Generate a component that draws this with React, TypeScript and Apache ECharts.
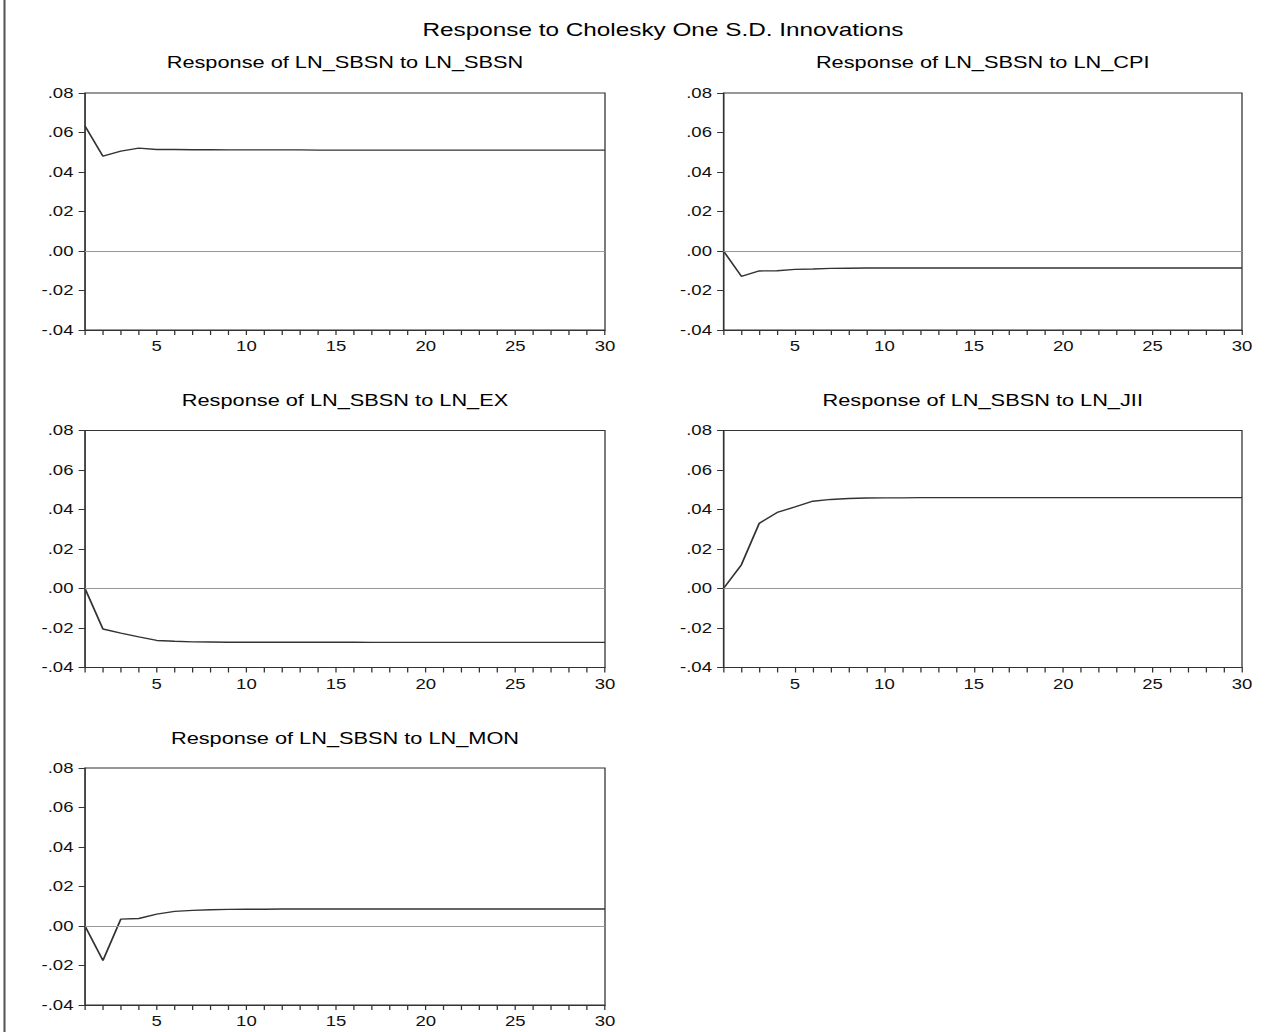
import React, { useEffect, useRef } from "react";
import * as echarts from "echarts";

// ---- data ----
const periods: number[] = Array.from({ length: 30 }, (_, i) => i + 1);

const mainTitle = "Response to Cholesky One S.D. Innovations";
const panelTitles = [
  "Response of LN_SBSN to LN_SBSN",
  "Response of LN_SBSN to LN_CPI",
  "Response of LN_SBSN to LN_EX",
  "Response of LN_SBSN to LN_JII",
  "Response of LN_SBSN to LN_MON",
];

const respSBSN = [
  0.0633, 0.0480, 0.0506, 0.0521, 0.0514, 0.0514, 0.0513, 0.0513, 0.0512, 0.0512,
  0.0512, 0.0512, 0.0512, 0.0511, 0.0511, 0.0511, 0.0511, 0.0511, 0.0511, 0.0511,
  0.0511, 0.0511, 0.0511, 0.0511, 0.0511, 0.0511, 0.0511, 0.0511, 0.0511, 0.0511,
];
const respCPI = [
  0.0, -0.0128, -0.0101, -0.0100, -0.0093, -0.0091, -0.0088, -0.0087, -0.0086, -0.0086,
  -0.0086, -0.0086, -0.0086, -0.0086, -0.0086, -0.0086, -0.0086, -0.0086, -0.0086, -0.0086,
  -0.0086, -0.0086, -0.0086, -0.0086, -0.0086, -0.0086, -0.0086, -0.0086, -0.0086, -0.0086,
];
const respEX = [
  0.0, -0.0205, -0.0226, -0.0245, -0.0263, -0.0267, -0.0270, -0.0271, -0.0272, -0.0272,
  -0.0272, -0.0272, -0.0272, -0.0272, -0.0272, -0.0272, -0.0273, -0.0273, -0.0273, -0.0273,
  -0.0273, -0.0273, -0.0273, -0.0273, -0.0273, -0.0273, -0.0273, -0.0273, -0.0273, -0.0273,
];
const respJII = [
  0.0, 0.0120, 0.0330, 0.0385, 0.0413, 0.0442, 0.0451, 0.0456, 0.0458, 0.0459,
  0.0459, 0.0460, 0.0460, 0.0460, 0.0460, 0.0460, 0.0460, 0.0460, 0.0460, 0.0460,
  0.0460, 0.0460, 0.0460, 0.0460, 0.0460, 0.0460, 0.0460, 0.0460, 0.0460, 0.0460,
];
const respMON = [
  0.0, -0.0175, 0.0035, 0.0038, 0.0060, 0.0074, 0.0079, 0.0082, 0.0084, 0.0085,
  0.0085, 0.0086, 0.0086, 0.0086, 0.0086, 0.0086, 0.0086, 0.0086, 0.0086, 0.0086,
  0.0086, 0.0086, 0.0086, 0.0086, 0.0086, 0.0086, 0.0086, 0.0086, 0.0086, 0.0086,
];
const responses = [respSBSN, respCPI, respEX, respJII, respMON];

const xLabelValues = [5, 10, 15, 20, 25, 30];
const yMin = -0.04;
const yMax = 0.08;
const yStep = 0.02;

// ---- layout (page coordinates; the reference is stretched horizontally) ----
const S = 1.28;
const PAGE_W = 1286;
const PAGE_H = 1032;
const px = (x: number) => x / S;
const cols = [
  { l: 85, r: 605 },
  { l: 723.5, r: 1242 },
];
const rows = [
  { t: 93, b: 330 },
  { t: 430.5, b: 667.5 },
  { t: 768, b: 1005 },
];
const panelPos = [
  [0, 0],
  [0, 1],
  [1, 0],
  [1, 1],
  [2, 0],
];
const titleY = [62, 400, 738];
const FONT = "'Liberation Sans', Arial, Helvetica, sans-serif";
const INK = "#111";

const fmtY = (v: number) => {
  const a = Math.abs(v);
  const s = a.toFixed(2).replace(/^0/, "");
  return (v < -1e-9 ? "-" : "") + s;
};

export default function App() {
  const ref = useRef<HTMLDivElement>(null);
  useEffect(() => {
    if (!ref.current) return;
    const chart = echarts.init(ref.current, undefined, { renderer: "svg" });

    const grids: any[] = [];
    const xAxes: any[] = [];
    const yAxes: any[] = [];
    const series: any[] = [];
    const graphics: any[] = [];

    graphics.push({
      type: "line",
      shape: { x1: px(4.5), y1: 0, x2: px(4.5), y2: PAGE_H },
      style: { stroke: "#555", lineWidth: 1.6 },
      silent: true,
    });
    graphics.push({
      type: "text",
      x: px(663),
      y: 29,
      style: {
        text: mainTitle,
        fontFamily: FONT,
        fontSize: 19,
        fill: "#000",
        align: "center",
        verticalAlign: "middle",
      },
    });

    panelPos.forEach(([ri, ci], i) => {
      const c = cols[ci];
      const r = rows[ri];
      grids.push({
        left: px(c.l),
        width: px(c.r - c.l),
        top: r.t,
        height: r.b - r.t,
        show: true,
        borderColor: "#333",
        borderWidth: 1,
        backgroundColor: "transparent",
        containLabel: false,
        outerBoundsMode: "none",
      });
      xAxes.push({
        type: "value",
        gridIndex: i,
        min: 1,
        max: 30,
        interval: 1,
        axisLine: { show: true, onZero: false, lineStyle: { color: "#333", width: 1 } },
        axisTick: {
          show: true,
          inside: false,
          length: 5,
          customValues: periods,
          lineStyle: { color: "#333", width: 1 },
        },
        axisLabel: {
          show: true,
          customValues: xLabelValues,
          margin: 9,
          color: INK,
          fontFamily: FONT,
          fontSize: 14.5,
        },
        splitLine: { show: false },
      });
      yAxes.push({
        type: "value",
        gridIndex: i,
        min: yMin,
        max: yMax,
        interval: yStep,
        axisLine: { show: true, onZero: false, lineStyle: { color: "#333", width: 1 } },
        axisTick: { show: true, inside: false, length: 5, lineStyle: { color: "#333", width: 1 } },
        axisLabel: {
          show: true,
          margin: 9,
          color: INK,
          fontFamily: FONT,
          fontSize: 14.5,
          formatter: fmtY,
          showMinLabel: true,
          showMaxLabel: true,
        },
        splitLine: { show: false },
      });
      series.push({
        type: "line",
        xAxisIndex: i,
        yAxisIndex: i,
        data: periods.map((p, k) => [p, responses[i][k]]),
        showSymbol: false,
        symbol: "none",
        lineStyle: { color: "#333", width: 1.4 },
        silent: true,
        markLine: {
          silent: true,
          symbol: "none",
          label: { show: false },
          lineStyle: { color: "#999", width: 1, type: "solid" },
          data: [{ yAxis: 0 }],
        },
      });
      graphics.push({
        type: "text",
        x: px((c.l + c.r) / 2),
        y: titleY[ri],
        style: {
          text: panelTitles[i],
          fontFamily: FONT,
          fontSize: 17,
          fill: "#000",
          align: "center",
          verticalAlign: "middle",
        },
      });
    });

    chart.setOption({
      animation: false,
      backgroundColor: "#fff",
      grid: grids,
      xAxis: xAxes,
      yAxis: yAxes,
      series,
      graphic: graphics,
    });
    return () => chart.dispose();
  }, []);

  return (
    <div
      ref={ref}
      style={{
        position: "absolute",
        left: 0,
        top: 0,
        width: PAGE_W / S,
        height: PAGE_H,
        transform: `scaleX(${S})`,
        transformOrigin: "0 0",
        background: "#fff",
      }}
    />
  );
}
